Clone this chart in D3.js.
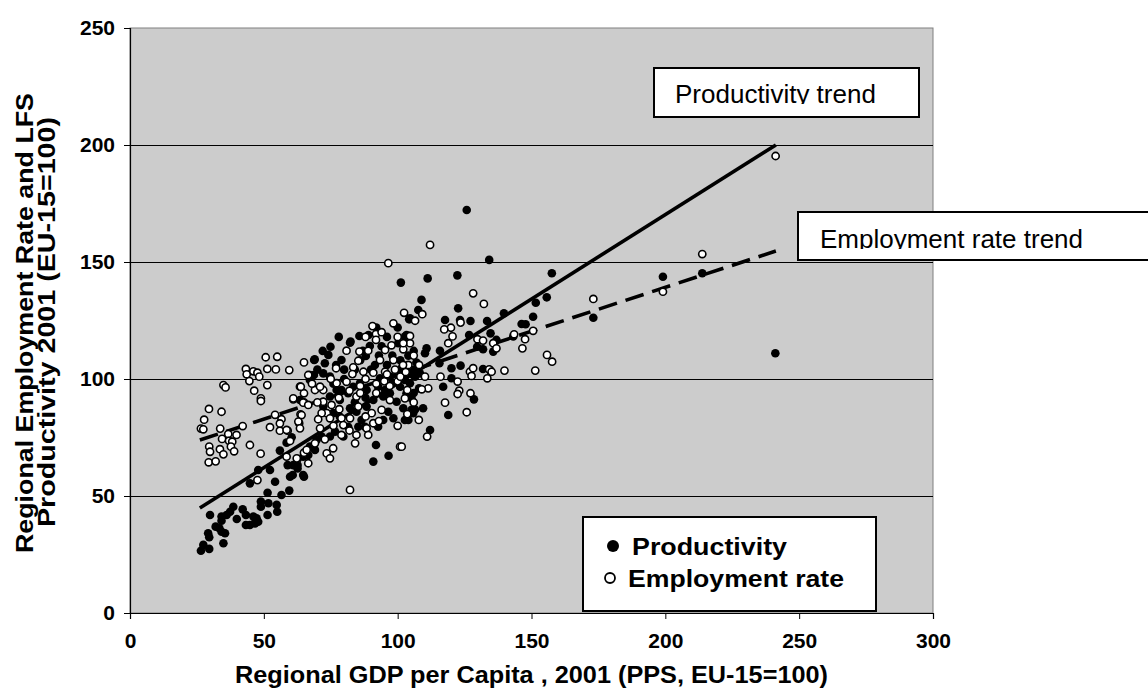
<!DOCTYPE html>
<html>
<head>
<meta charset="utf-8">
<script src="https://cdn.jsdelivr.net/npm/d3@7"></script>
<style>
  html, body { margin: 0; padding: 0; background: #ffffff; }
  svg { display: block; }
  text { font-family: "Liberation Sans", Arial, Helvetica, sans-serif; }
</style>
</head>
<body>
<svg id="chart" width="1148" height="690"></svg>
<script>
// ---------------- DATA ----------------
const xTicks = [0, 50, 100, 150, 200, 250, 300];
const yTicks = [0, 50, 100, 150, 200, 250];
const gridValues = [50, 100, 150, 200];

const xTitle = "Regional GDP per Capita , 2001 (PPS, EU-15=100)";
const yTitleLines = ["Regional Employment Rate and LFS", "Productivity 2001 (EU-15=100)"];
const legendLabels = ["Productivity", "Employment rate"];
const trendLabels = ["Productivity trend", "Employment rate trend"];

// Productivity (filled) points: [GDP per capita, productivity]
const productivity = [
  [27.4,29.1],[26.5,26.6],[29.6,27.4],[29.2,34.1],[29.6,32.4],[32.0,36.9],[33.4,36.2],[34.2,34.7],
  [35.5,34.1],[34.9,29.8],[34.2,41.2],[34.2,39.4],[36.1,41.9],[29.9,41.9],[38.6,45.4],[37.4,43.3],
  [39.9,40.2],[42.1,44.3],[43.3,41.9],[43.3,37.6],[46.1,41.2],[47.3,40.5],[46.7,38.3],[47.9,39.0],
  [44.8,37.6],[51.4,41.9],[48.9,47.6],[48.9,45.4],[51.7,46.9],[54.8,46.2],[55.0,43.3],[51.4,51.4],
  [56.6,50.4],[59.5,52.3],[44.8,55.4],[54.2,56.1],[47.9,61.1],[52.3,61.1],[56.0,69.4],[58.5,72.8],
  [60.4,75.1],[58.9,63.2],[60.8,59.0],[65.0,58.2],[62.6,61.8],[63.5,91.0],
  [61.0,63.2],[62.6,63.2],[59.8,58.2],[64.7,59.0],[64.7,66.8],[66.6,67.5],[67.2,71.1],[69.1,69.7],
  [71.6,75.4],[69.7,73.9],[76.6,77.5],[74.7,75.4],[81.5,79.6],[79.7,75.4],[85.3,79.6],[86.5,82.5],
  [92.7,79.6],[94.6,82.5],[96.5,86.0],[98.4,83.2],[102.1,87.5],[105.2,86.8],[103.3,93.9],[105.2,91.7],
  [102.7,99.6],[104.6,98.2],[106.5,101.0],[99.6,102.4],[101.5,104.6],[97.1,101.0],[93.4,100.3],[91.5,106.0],
  [88.1,109.8],[89.6,114.1],[89.1,118.8],[85.7,118.4],[82.2,115.5],[79.0,108.1],[74.9,113.8],[74.1,110.3],
  [69.0,108.4],[72.8,106.7],[67.2,101.7],[68.7,101.7],[67.2,99.6],[72.2,102.4],[74.7,101.0],[77.2,95.3],
  [81.5,93.9],[83.4,96.7],[85.9,98.2],[88.4,95.3],[74.7,92.5],[72.2,88.2],[75.9,85.4],[78.4,83.9],
  [82.2,87.5],[84.6,86.0],[88.4,88.2],[90.9,91.0],[94.6,92.5],[97.1,93.9],[79.0,95.3],[78.4,91.0],
  [92.7,96.7],[95.3,95.3],[100.9,96.7],[105.8,101.7],[99.6,90.3],[104.0,82.5],[105.8,85.4],[90.9,64.7],
  [96.6,67.2],[91.9,71.8],[87.8,79.6],[100.2,115.3],[104.2,118.4],[104.3,125.5],[101.2,141.2],
  [84.0,104.0],[87.0,112.0],[93.0,110.0],[96.0,106.0],[80.0,104.0],[77.0,106.0],[101.0,108.0],[104.0,110.0],
  [107.0,107.0],[82.4,116.0],[103.3,118.8],[68.8,108.1],
  [86.0,108.0],[90.0,104.0],[94.0,114.0],[98.0,110.0],[92.0,122.0],[96.0,118.0],[100.0,122.0],[106.0,112.0],
  [108.0,96.0],[106.0,94.0],[98.0,98.0],[88.0,92.0],[84.0,90.0],[80.0,100.0],[76.0,98.0],[70.0,104.0],
  [72.0,112.0],[78.0,118.0],
  [125.8,172.2],[134.2,150.9],[157.6,145.2],[111.2,143.0],[122.3,144.3],[108.9,133.8],[107.7,129.5],[122.6,130.2],
  [117.7,125.2],[123.3,125.2],[127.2,124.8],[133.4,124.8],[139.7,128.1],[151.6,132.6],[155.7,134.9],[150.6,126.6],
  [146.3,123.5],[147.8,123.4],[126.7,118.8],[134.7,119.5],[136.9,116.7],[129.7,113.8],[131.9,112.7],[135.7,111.7],
  [143.2,118.2],[110.8,113.1],[110.2,111.0],[115.8,112.1],[115.6,106.7],[120.1,104.6],[123.5,105.7],[131.9,104.3],
  [134.5,103.8],[120.1,100.3],[117.0,96.7],[128.5,91.3],[109.5,87.5],[106.5,87.0],[118.9,84.6],[112.1,78.2],
  [102.7,82.5],[108.3,102.4],[105.8,103.8],[104.6,125.9],[102.7,118.1],[103.3,116.0],
  [173.1,126.2],[199.1,143.7],[213.8,145.2],[241.1,111.0]
];

// Employment rate (open) points: [GDP per capita, employment rate]
const employment = [
  [50.7,109.3],[55.0,109.5],[43.3,104.3],[43.6,102.0],[46.1,103.3],[47.6,102.7],[48.3,101.0],[51.3,104.3],
  [54.5,104.1],[59.5,103.8],[65.0,107.1],[66.6,101.7],[44.6,99.1],[34.9,97.4],[35.7,96.4],[46.4,95.0],
  [51.3,97.4],[48.9,91.7],[48.9,90.6],[29.5,87.2],[34.2,86.0],[27.7,82.6],[26.5,78.8],[27.4,78.5],
  [33.7,78.8],[36.7,76.5],[39.8,76.1],[34.4,74.4],[37.0,73.6],[38.2,73.2],[29.6,71.1],[29.9,68.9],
  [33.6,70.0],[34.9,67.8],[37.7,71.1],[38.9,69.1],[29.4,64.4],[32.0,64.8],[44.8,71.8],[48.8,68.1],
  [42.1,79.9],[54.2,84.7],[56.6,82.8],[52.3,79.4],[56.0,77.9],[58.9,77.9],[59.8,73.5],[63.5,96.7],
  [65.0,93.9],[61.0,91.3],[65.0,90.0],[63.7,84.9],[63.2,81.1],[65.0,68.5],[62.5,65.7],[58.5,66.8],
  [47.6,56.8],[66.6,64.0],
  [102.4,128.3],[98.4,123.8],[106.5,124.9],[90.6,122.6],[91.9,119.2],[91.9,116.7],[80.9,112.1],[85.7,111.7],
  [77.0,104.6],[83.4,105.0],[85.3,107.8],[89.0,112.1],[95.3,112.4],[97.7,114.4],[102.1,112.7],[104.6,115.3],
  [93.4,108.1],[98.4,108.1],[95.3,103.1],[90.9,102.7],[87.2,103.1],[83.1,102.1],[80.9,98.8],[77.2,98.2],
  [72.2,95.3],[69.1,95.3],[71.0,96.7],[61.0,91.7],[64.7,89.9],[66.6,88.9],[64.1,84.6],[72.2,90.3],
  [75.3,88.9],[78.2,87.1],[73.5,85.4],[71.6,85.4],[70.3,82.8],[74.7,83.2],[79.0,83.2],[82.2,83.2],
  [85.3,88.2],[79.7,80.3],[71.0,78.9],[72.8,74.2],[69.1,72.5],[66.0,69.7],[62.3,66.1],[73.5,68.2],
  [74.7,66.1],[75.9,70.4],[79.0,76.1],[84.6,76.1],[88.4,78.9],[89.0,76.1],[90.3,85.4],[90.9,81.1],
  [94.0,86.8],[97.1,91.0],[102.7,91.7],[103.6,95.3],[100.9,71.1],[84.1,72.5],[84.6,92.5],[56.0,81.0],
  [58.5,78.2],[62.9,81.8],[63.5,78.9],[63.8,96.7],[82.2,52.6],[96.5,149.5],
  [100.0,99.0],[101.0,101.0],[103.0,103.0],[99.0,104.0],[104.0,106.0],[97.0,97.0],[95.0,99.0],[92.0,98.0],
  [88.0,100.0],[86.0,97.0],
  [88.0,118.0],[94.0,120.0],[100.0,118.0],[96.0,102.0],[92.0,94.0],[86.0,94.0],[82.0,95.0],[78.0,92.0],
  [75.0,100.0],[68.0,98.0],[70.0,90.0],[76.0,80.0],[82.0,78.0],[88.0,84.0],[93.0,82.0],[100.0,80.0],
  [106.0,90.0],[108.0,106.0],[106.0,110.0],[102.0,106.0],
  [112.1,157.3],[128.2,136.6],[132.2,132.1],[109.2,127.7],[123.5,124.1],[119.9,121.9],[117.4,121.2],[120.5,118.2],
  [118.9,115.3],[129.8,117.0],[131.9,116.4],[135.7,115.3],[136.9,113.1],[143.5,119.1],[147.6,117.0],[146.6,113.1],
  [150.6,120.6],[155.8,110.3],[157.7,107.4],[139.9,103.6],[151.4,103.6],[127.0,103.1],[128.2,104.6],[127.6,101.3],
  [134.2,104.1],[135.1,103.1],[133.5,100.3],[116.0,101.0],[110.2,101.0],[111.4,96.0],[109.0,95.6],[122.4,98.9],
  [123.0,95.0],[122.4,93.6],[127.2,93.9],[117.7,89.9],[125.8,85.8],[107.9,82.5],[111.0,75.4],[103.6,85.0],
  [101.5,71.1],[104.6,118.4],[102.1,115.3],[173.1,134.2],[199.1,137.3],[213.8,153.4],[241.2,195.3]
];

// Trend lines (end points)
const trendX = [26.1, 241.3];
const productivityTrend = [44.9, 200.0];
const employmentTrend = [73.9, 154.7];

// ---------------- CHART ----------------
const svg = d3.select("#chart");
const plot = { left: 130, right: 933, top: 28, bottom: 613 };

const x = d3.scaleLinear().domain([0, 300]).range([plot.left, plot.right]);
const y = d3.scaleLinear().domain([0, 250]).range([plot.bottom, plot.top]);

// plot background
svg.append("rect")
  .attr("x", plot.left).attr("y", plot.top)
  .attr("width", plot.right - plot.left).attr("height", plot.bottom - plot.top)
  .attr("fill", "#cccccc")
  .attr("stroke", "#808080").attr("stroke-width", 1);

// gridlines
svg.append("g").selectAll("line").data(gridValues).join("line")
  .attr("x1", plot.left).attr("x2", plot.right)
  .attr("y1", d => Math.round(y(d)) + 0.5).attr("y2", d => Math.round(y(d)) + 0.5)
  .attr("stroke", "#000").attr("stroke-width", 1);

// axes
const yAxis = d3.axisLeft(y).tickValues(yTicks).tickSize(6).tickPadding(9);
const xAxis = d3.axisBottom(x).tickValues(xTicks).tickSize(6).tickPadding(14);

const gy = svg.append("g").attr("transform", `translate(${plot.left},0)`).call(yAxis);
const gx = svg.append("g").attr("transform", `translate(0,${plot.bottom})`).call(xAxis);
[gx, gy].forEach(g => {
  g.select(".domain").attr("stroke", "#000").attr("stroke-width", 1.2);
  g.selectAll(".tick line").attr("stroke", "#000");
  g.selectAll(".tick text")
    .attr("fill", "#000")
    .style("font-family", '"Liberation Sans", Arial, sans-serif')
    .style("font-weight", "bold")
    .style("font-size", "21px");
});

// trend lines
const line = d3.line().x(d => x(d[0])).y(d => y(d[1]));
svg.append("path")
  .datum(trendX.map((v, i) => [v, productivityTrend[i]]))
  .attr("d", line).attr("fill", "none")
  .attr("stroke", "#000").attr("stroke-width", 3.6);
svg.append("path")
  .datum(trendX.map((v, i) => [v, employmentTrend[i]]))
  .attr("d", line).attr("fill", "none")
  .attr("stroke", "#000").attr("stroke-width", 3.6)
  .attr("stroke-dasharray", "19,9");

// points
const R = 4.3;
svg.append("g").selectAll("circle").data(productivity).join("circle")
  .attr("cx", d => x(d[0])).attr("cy", d => y(d[1])).attr("r", R)
  .attr("fill", "#000");
svg.append("g").selectAll("circle").data(employment).join("circle")
  .attr("cx", d => x(d[0])).attr("cy", d => y(d[1])).attr("r", R - 0.7)
  .attr("fill", "#fff").attr("stroke", "#000").attr("stroke-width", 1.6);

// trend label boxes
const defs = svg.append("defs");
function trendBox(id, bx, by, bw, bh, tx, baseY, label) {
  svg.append("rect").attr("x", bx).attr("y", by).attr("width", bw).attr("height", bh)
    .attr("fill", "#fff").attr("stroke", "#000").attr("stroke-width", 2);
  defs.append("clipPath").attr("id", id).append("rect")
    .attr("x", bx).attr("y", by).attr("width", bw).attr("height", baseY + 1 - by);
  svg.append("text").attr("x", tx).attr("y", baseY)
    .attr("clip-path", `url(#${id})`)
    .style("font-size", "26px").attr("fill", "#000").text(label);
}
trendBox("clipP", 654, 68, 265, 49, 675, 103, trendLabels[0]);
trendBox("clipE", 798, 212, 380, 48, 820, 248, trendLabels[1]);

// legend
svg.append("rect").attr("x", 583).attr("y", 517).attr("width", 293).attr("height", 94)
  .attr("fill", "#fff").attr("stroke", "#000").attr("stroke-width", 2);
svg.append("circle").attr("cx", 613).attr("cy", 546).attr("r", 6).attr("fill", "#000");
svg.append("circle").attr("cx", 610).attr("cy", 578).attr("r", 5)
  .attr("fill", "#fff").attr("stroke", "#000").attr("stroke-width", 1.8);
svg.append("text").attr("x", 632).attr("y", 555).style("font-weight", "bold")
  .style("font-size", "24px").attr("textLength", 155).attr("lengthAdjust", "spacingAndGlyphs")
  .text(legendLabels[0]);
svg.append("text").attr("x", 628).attr("y", 587).style("font-weight", "bold")
  .style("font-size", "24px").attr("textLength", 216).attr("lengthAdjust", "spacingAndGlyphs")
  .text(legendLabels[1]);

// axis titles
svg.append("text").attr("x", 235).attr("y", 683)
  .style("font-weight", "bold").style("font-size", "23px")
  .attr("textLength", 593).attr("lengthAdjust", "spacingAndGlyphs")
  .text(xTitle);
const yt = svg.append("text").attr("transform", "rotate(-90)")
  .style("font-weight", "bold").style("font-size", "23px");
yt.append("tspan").attr("x", -553).attr("y", 33)
  .attr("textLength", 460).attr("lengthAdjust", "spacingAndGlyphs").text(yTitleLines[0]);
yt.append("tspan").attr("x", -527).attr("y", 55)
  .attr("textLength", 410).attr("lengthAdjust", "spacingAndGlyphs").text(yTitleLines[1]);
</script>
</body>
</html>
